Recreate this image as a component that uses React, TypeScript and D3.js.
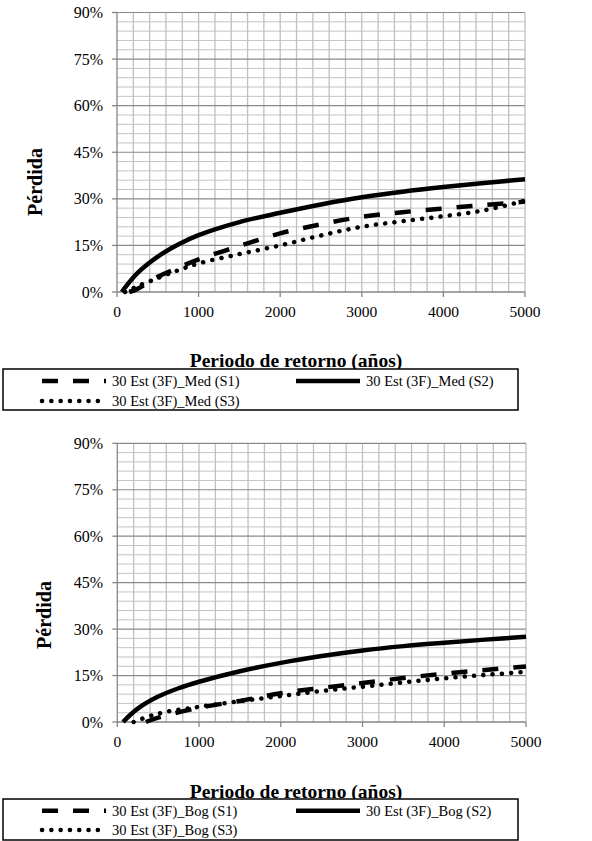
import React from "react";
import * as d3 from "d3";

// ---- data (return period in years, loss in %) ----
const xTicks = [0, 1000, 2000, 3000, 4000, 5000];
const yTicks = [0, 15, 30, 45, 60, 75, 90];

const medS1X = [150, 250, 500, 750, 1000, 1500, 2000, 2500, 3000, 3500, 4000, 4500, 5000];
const medS1Y = [0, 1.0, 4.9, 7.8, 10.5, 14.8, 18.9, 21.8, 24.2, 25.7, 26.9, 28.0, 29.1];
const medS2X = [60, 100, 250, 500, 750, 1000, 1500, 2000, 2500, 3000, 3500, 4000, 4500, 5000];
const medS2Y = [0, 1.5, 6.1, 11.4, 15.3, 18.3, 22.5, 25.5, 28.2, 30.5, 32.3, 33.8, 35.1, 36.3];
const medS3X = [100, 250, 500, 750, 1000, 1500, 2000, 2500, 3000, 3500, 4000, 4500, 5000];
const medS3Y = [0, 1.8, 4.5, 7.0, 9.2, 12.2, 15.0, 18.2, 21.0, 22.8, 24.4, 26.3, 29.4];

const bogS1X = [350, 500, 1000, 1500, 2000, 2500, 3000, 3500, 4000, 4500, 5000];
const bogS1Y = [0, 1.4, 4.6, 6.8, 9.3, 11.0, 12.6, 14.2, 15.6, 16.8, 17.9];
const bogS2X = [70, 250, 500, 750, 1000, 1500, 2000, 2500, 3000, 3500, 4000, 4500, 5000];
const bogS2Y = [0, 4.3, 8.2, 10.9, 13.0, 16.4, 19.1, 21.3, 23.1, 24.5, 25.6, 26.6, 27.5];
const bogS3X = [200, 500, 1000, 1500, 2000, 2500, 3000, 3500, 4000, 4500, 5000];
const bogS3Y = [0, 2.7, 4.9, 6.7, 8.4, 10.0, 11.4, 12.8, 14.1, 15.2, 16.2];

const medNames = ["30 Est (3F)_Med (S1)", "30 Est (3F)_Med (S2)", "30 Est (3F)_Med (S3)"];
const bogNames = ["30 Est (3F)_Bog (S1)", "30 Est (3F)_Bog (S2)", "30 Est (3F)_Bog (S3)"];

const yTitle = "Pérdida";
const xTitle = "Periodo de retorno (años)";

const FONT = "'Liberation Serif', 'Times New Roman', serif";

const styles = [
  { dash: "16 15", cap: "butt", width: 4.5 },
  { dash: null, cap: "butt", width: 4.5 },
  { dash: "0.1 9.2", cap: "round", width: 4.5 },
];

type Panel = {
  left: number; right: number; top: number; bottom: number;
  series: { x: number[]; y: number[] }[];
  names: string[];
  yTitleX: number; yTitleY: number;
  xTitleY: number;
  legTop: number; legRow1: number; legRow2: number;
};

const panels: Panel[] = [
  {
    left: 117, right: 525, top: 12.5, bottom: 292,
    series: [{ x: medS1X, y: medS1Y }, { x: medS2X, y: medS2Y }, { x: medS3X, y: medS3Y }],
    names: medNames,
    yTitleX: 41.5, yTitleY: 182, xTitleY: 367,
    legTop: 369, legRow1: 381, legRow2: 401,
  },
  {
    left: 117.3, right: 526, top: 443.3, bottom: 722,
    series: [{ x: bogS1X, y: bogS1Y }, { x: bogS2X, y: bogS2Y }, { x: bogS3X, y: bogS3Y }],
    names: bogNames,
    yTitleX: 51, yTitleY: 615, xTitleY: 798,
    legTop: 799, legRow1: 810.7, legRow2: 830,
  },
];

function ChartPanel({ p }: { p: Panel }) {
  const x = d3.scaleLinear().domain([0, 5000]).range([p.left, p.right]);
  const y = d3.scaleLinear().domain([0, 90]).range([p.bottom, p.top]);
  const minorX = d3.range(0, 5001, 200);
  const minorY = d3.range(0, 91, 3);
  const line = d3
    .line<[number, number]>()
    .x((d) => x(d[0]))
    .y((d) => y(d[1]))
    .curve(d3.curveCatmullRom.alpha(0.5));

  const legendItems = [
    { sx: 42, tx: 112, cy: p.legRow1 },
    { sx: 296, tx: 366, cy: p.legRow1 },
    { sx: 42, tx: 112, cy: p.legRow2 },
  ];

  return (
    <g>
      <rect x={p.left} y={p.top} width={p.right - p.left} height={p.bottom - p.top} fill="#fff" />
      {minorY.filter((v) => v % 15 !== 0).map((v) => (
        <line key={"hy" + v} x1={p.left} x2={p.right} y1={y(v)} y2={y(v)} stroke="#c4c4c4" strokeWidth={1} />
      ))}
      {minorX.filter((v) => v !== 0).map((v) => (
        <line key={"vx" + v} x1={x(v)} x2={x(v)} y1={p.top} y2={p.bottom} stroke="#c0c0c0" strokeWidth={1.3} />
      ))}
      {yTicks.filter((v) => v !== 0).map((v) => (
        <line key={"my" + v} x1={p.left} x2={p.right} y1={y(v)} y2={y(v)} stroke="#8a8a8a" strokeWidth={1.2} />
      ))}
      {/* axes */}
      <line x1={p.left} x2={p.left} y1={p.top} y2={p.bottom} stroke="#868686" strokeWidth={1.3} />
      <line x1={p.left} x2={p.right} y1={p.bottom} y2={p.bottom} stroke="#868686" strokeWidth={1.3} />
      {yTicks.map((v) => (
        <g key={"yt" + v}>
          <line x1={p.left - 5} x2={p.left} y1={y(v)} y2={y(v)} stroke="#868686" strokeWidth={1.3} />
          <text x={103} y={y(v) + 5.5} textAnchor="end" fontFamily={FONT} fontSize={16} fill="#000">
            {v + "%"}
          </text>
        </g>
      ))}
      {xTicks.map((v) => (
        <g key={"xt" + v}>
          <line x1={x(v)} x2={x(v)} y1={p.bottom} y2={p.bottom + 5} stroke="#868686" strokeWidth={1.3} />
          <text x={x(v)} y={p.bottom + 25} textAnchor="middle" fontFamily={FONT} fontSize={15.5} fill="#000">
            {v}
          </text>
        </g>
      ))}
      {/* series */}
      {p.series.map((s, i) => (
        <path
          key={"s" + i}
          d={line(s.x.map((xv, j) => [xv, s.y[j]] as [number, number])) || ""}
          fill="none"
          stroke="#000"
          strokeWidth={styles[i].width}
          strokeDasharray={styles[i].dash || undefined}
          strokeLinecap={styles[i].cap as any}
          strokeLinejoin="round"
        />
      ))}
      {/* titles */}
      <text
        transform={`translate(${p.yTitleX},${p.yTitleY}) rotate(-90)`}
        textAnchor="middle"
        fontFamily={FONT}
        fontWeight="bold"
        fontSize={20}
        fill="#000"
      >
        {yTitle}
      </text>
      <text x={296} y={p.xTitleY} textAnchor="middle" fontFamily={FONT} fontWeight="bold" fontSize={19.5} fill="#000">
        {xTitle}
      </text>
      {/* legend */}
      <rect x={3} y={p.legTop} width={515} height={41} fill="#fff" stroke="#000" strokeWidth={1.5} />
      {legendItems.map((it, i) => (
        <g key={"lg" + i}>
          <line
            x1={it.sx}
            x2={it.sx + 64}
            y1={it.cy}
            y2={it.cy}
            stroke="#000"
            strokeWidth={styles[i].width}
            strokeDasharray={styles[i].dash || undefined}
            strokeLinecap={styles[i].cap as any}
          />
          <text x={it.tx} y={it.cy + 5} fontFamily={FONT} fontSize={14.5} fill="#000">
            {p.names[i]}
          </text>
        </g>
      ))}
    </g>
  );
}

export default function App() {
  return (
    <svg
      width={592}
      height={841}
      style={{ position: "absolute", left: 0, top: 0, background: "#fff" }}
    >
      <rect x={0} y={0} width={592} height={841} fill="#fff" />
      {panels.map((p, i) => (
        <ChartPanel key={i} p={p} />
      ))}
    </svg>
  );
}
